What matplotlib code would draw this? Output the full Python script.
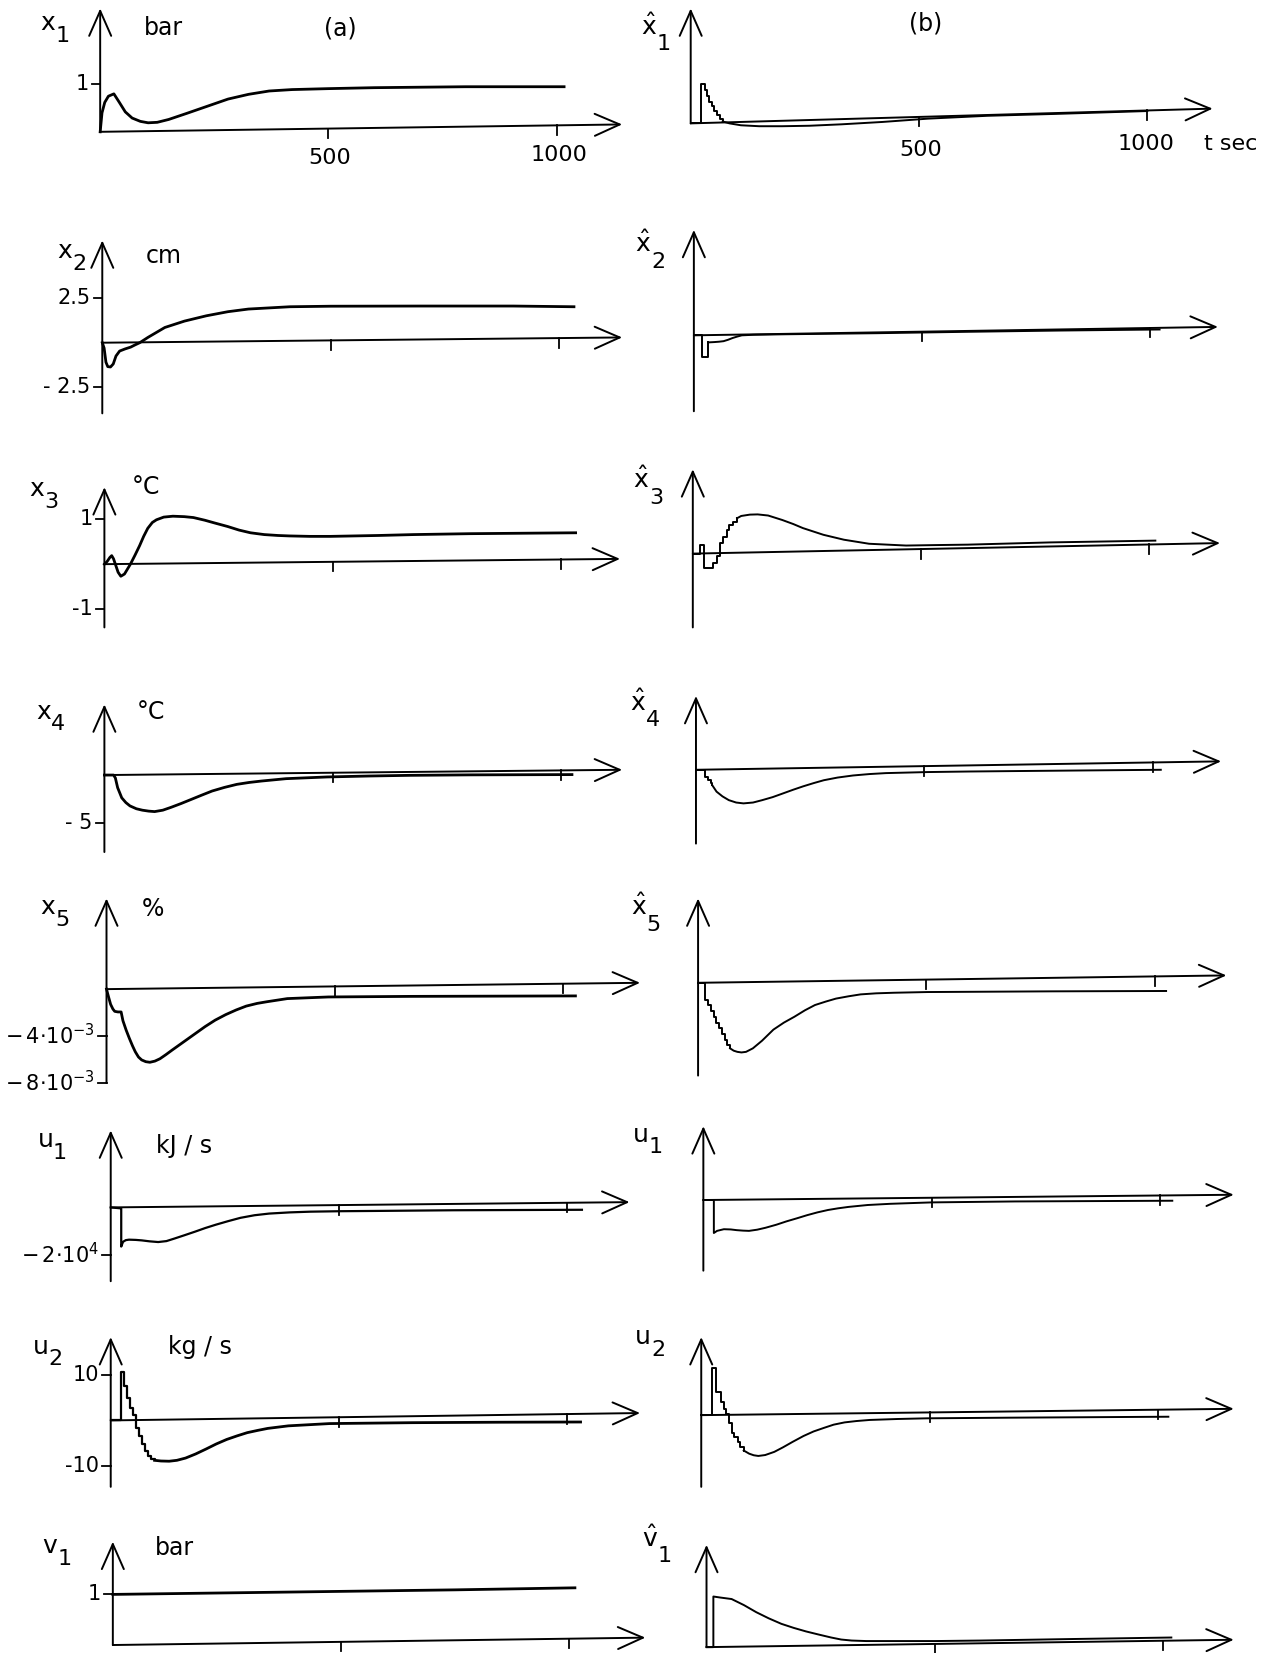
import numpy as np
import matplotlib.pyplot as plt

plt.rcParams['font.family'] = 'DejaVu Sans'
plt.rcParams['mathtext.fontset'] = 'dejavusans'

# ---------------- data (t in s, values in panel units) ----------------
# column (a): process variables
x1_t = [0, 4, 10, 18, 30, 42, 55, 70, 88, 105, 125, 150, 190, 235, 280, 325, 370, 420, 500, 600, 800, 1016]
x1_v = [0, 0.4, 0.62, 0.75, 0.8, 0.62, 0.42, 0.29, 0.22, 0.19, 0.2, 0.26, 0.39, 0.54, 0.69, 0.79, 0.86, 0.89, 0.91, 0.93, 0.95, 0.95]

x2_t = [0, 4, 8, 12, 18, 24, 30, 38, 50, 62, 72, 82, 100, 137, 180, 228, 275, 320, 411, 500, 700, 900, 1033]
x2_v = [0, -0.3, -1.1, -1.35, -1.37, -1.2, -0.75, -0.47, -0.35, -0.25, -0.12, 0, 0.3, 0.86, 1.22, 1.52, 1.75, 1.9, 2.03, 2.06, 2.07, 2.07, 2.03]

x3_t = [0, 6, 12, 16, 20, 24, 30, 36, 44, 57, 67, 77, 86, 95, 105, 114, 130, 150, 175, 195, 220, 241, 270, 295, 320, 350, 380, 405, 450, 495, 600, 677, 800, 1032]
x3_v = [0, 0.06, 0.15, 0.19, 0.12, 0.0, -0.18, -0.27, -0.22, 0, 0.2, 0.41, 0.62, 0.8, 0.93, 0.99, 1.05, 1.07, 1.06, 1.04, 0.98, 0.92, 0.84, 0.76, 0.7, 0.66, 0.64, 0.63, 0.62, 0.62, 0.64, 0.66, 0.68, 0.7]

x4_t = [0, 20, 24, 29, 38, 47, 56, 70, 83, 97, 110, 128, 146, 168, 191, 214, 236, 263, 290, 317, 344, 398, 488, 580, 668, 800, 1024]
x4_v = [0, 0, -0.3, -1.33, -2.4, -2.9, -3.25, -3.55, -3.7, -3.8, -3.85, -3.7, -3.4, -3.0, -2.55, -2.1, -1.68, -1.3, -0.98, -0.78, -0.63, -0.38, -0.2, -0.1, -0.03, 0.02, 0.05]

x5_t = [0, 4, 9, 14, 18, 25, 32, 36, 43, 50, 57, 63, 70, 77, 86, 95, 106, 117, 130, 144, 162, 180, 198, 216, 238, 261, 284, 306, 330, 351, 396, 486, 667, 850, 1027]
x5_v = [0, -0.6, -1.3, -1.7, -1.9, -1.95, -1.95, -2.7, -3.5, -4.2, -4.85, -5.35, -5.8, -6.05, -6.2, -6.25, -6.15, -5.95, -5.6, -5.2, -4.7, -4.2, -3.7, -3.2, -2.65, -2.18, -1.78, -1.45, -1.22, -1.08, -0.81, -0.67, -0.62, -0.6, -0.58]  # x 1e-3

u1_t = [0, 22, 23, 23, 27, 33, 40, 55, 68, 85, 104, 122, 140, 162, 185, 207, 230, 257, 284, 315, 347, 392, 437, 505, 572, 752, 1032]
u1_v = [0, -0.04, -0.04, -1.65, -1.45, -1.38, -1.36, -1.37, -1.39, -1.43, -1.46, -1.42, -1.31, -1.17, -1.02, -0.87, -0.73, -0.58, -0.44, -0.33, -0.26, -0.21, -0.18, -0.16, -0.15, -0.12, -0.1]  # x 1e4

u2_step_t = [0, 22, 29, 36, 43, 49, 56, 62, 68, 74, 81, 88, 96]
u2_step_v = [0, 10.6, 7.6, 4.9, 2.65, 1.14, -1.76, -3.5, -5.3, -6.7, -7.75, -8.45, -8.8]
u2_t = [96, 110, 128, 145, 164, 186, 209, 231, 254, 277, 299, 322, 344, 389, 479, 660, 850, 1029]
u2_v = [-8.8, -8.95, -9.0, -8.8, -8.3, -7.4, -6.3, -5.2, -4.2, -3.4, -2.7, -2.2, -1.76, -1.2, -0.7, -0.5, -0.4, -0.35]

v1_t = [0, 250, 500, 750, 1012]
v1_v = [1.0, 1.03, 1.06, 1.09, 1.13]

# column (b): estimates
x1h_step_t = [0, 23, 31, 36, 41, 47, 52, 58, 64, 70]
x1h_step_v = [0, 0.82, 0.71, 0.58, 0.46, 0.36, 0.26, 0.17, 0.10, 0.04]
x1h_t = [70, 85, 110, 150, 200, 260, 330, 420, 520, 650, 800, 1000]
x1h_v = [0.04, 0.0, -0.04, -0.06, -0.06, -0.05, -0.02, 0.03, 0.1, 0.16, 0.2, 0.26]

x2h_step_t = [0, 18, 31]
x2h_step_v = [0, -1.25, -0.4]
x2h_t = [31, 45, 55, 65, 75, 85, 95, 105, 130, 200, 400, 600, 800, 1020]
x2h_v = [-0.4, -0.38, -0.36, -0.33, -0.25, -0.15, -0.07, 0.0, 0.03, 0.06, 0.12, 0.2, 0.27, 0.33]

x3h_step_t = [0, 15, 24, 45, 53, 60, 67, 74, 80, 88, 97]
x3h_step_v = [0, 0.2, -0.32, -0.2, -0.06, 0.23, 0.38, 0.53, 0.64, 0.71, 0.79]
x3h_t = [97, 106, 125, 142, 165, 196, 220, 241, 286, 331, 386, 467, 530, 602, 783, 1013]
x3h_v = [0.79, 0.84, 0.87, 0.875, 0.85, 0.75, 0.66, 0.57, 0.42, 0.31, 0.22, 0.18, 0.19, 0.2, 0.25, 0.29]

x4h_step_t = [0, 20, 27, 32, 36]
x4h_step_v = [0, -0.76, -1.1, -1.4, -1.65]
x4h_t = [36, 45, 58, 72, 88, 104, 125, 145, 168, 190, 213, 235, 258, 280, 310, 344, 380, 416, 507, 600, 688, 850, 1018]
x4h_v = [-1.65, -2.3, -2.8, -3.2, -3.45, -3.54, -3.45, -3.2, -2.88, -2.5, -2.1, -1.74, -1.4, -1.1, -0.82, -0.6, -0.45, -0.35, -0.24, -0.18, -0.14, -0.07, 0.0]

x5h_step_t = [0, 15, 22, 28, 34, 40, 46, 52, 58, 64, 70]
x5h_step_v = [0, -1.5, -1.9, -2.4, -2.9, -3.4, -3.9, -4.4, -4.9, -5.3, -5.6]
x5h_t = [70, 78, 86, 95, 105, 120, 140, 165, 188, 211, 234, 256, 280, 302, 330, 356, 390, 429, 502, 640, 775, 1025]
x5h_v = [-5.6, -5.8, -5.9, -5.95, -5.9, -5.6, -4.95, -4.0, -3.4, -2.9, -2.35, -1.9, -1.6, -1.35, -1.15, -0.99, -0.9, -0.85, -0.79, -0.76, -0.73, -0.7]

u1h_t = [0, 23, 23, 30, 45, 60, 73, 87, 100, 118, 136, 160, 182, 205, 227, 250, 273, 295, 318, 360, 409, 500, 682, 1027]
u1h_v = [0, 0, -1.39, -1.3, -1.23, -1.24, -1.27, -1.29, -1.3, -1.25, -1.17, -1.04, -0.9, -0.77, -0.64, -0.52, -0.42, -0.35, -0.29, -0.21, -0.16, -0.1, -0.06, -0.03]

u2h_step_t = [0, 23.5, 32.5, 43.4, 50.6, 55, 61.4, 66.8, 72.3, 79.5, 84.9, 93]
u2h_step_v = [0, 10.4, 5.1, 2.9, 1.46, 0.2, -1.8, -3.9, -4.9, -6.0, -7.0, -7.8]
u2h_t = [93, 105, 115, 125, 140, 160, 179, 200, 224, 246, 269, 290, 314, 340, 369, 430, 495, 676, 1023]
u2h_v = [-7.8, -8.5, -8.85, -9.0, -8.8, -8.1, -7.1, -5.9, -4.6, -3.6, -2.8, -2.1, -1.6, -1.3, -1.06, -0.85, -0.7, -0.56, -0.35]

v1h_t = [0, 15, 15, 30, 55, 82, 109, 136, 164, 191, 218, 245, 273, 295, 318, 350, 382, 500, 600, 800, 1018]
v1h_v = [0, 0, 1.0, 0.98, 0.95, 0.83, 0.69, 0.57, 0.46, 0.38, 0.31, 0.25, 0.19, 0.15, 0.13, 0.12, 0.12, 0.12, 0.13, 0.16, 0.19]

x_ticks = [500, 1000]

# ---------------- layout (reference pixels of the 1211 px wide sketch) ----------------
W, H = 1277, 1653
K = W / 1211.0
SX = 0.433  # px per second

# ox, oy, y-axis top, y-axis bottom, px per unit, arrow tip x, arrow tip y
rows_a = [(95, 125, 8, 125, 45, 590, 118),
          (97, 325, 228, 392, 16.8, 590, 320),
          (99, 535, 462, 595, 42.5, 588, 530),
          (99, 735, 668, 808, 9, 590, 730),
          (101, 938, 852, 1027, 11.1, 607, 932),
          (105, 1145, 1072, 1215, 22.5, 597, 1140),
          (105, 1347, 1268, 1410, 4.3, 607, 1340),
          (107, 1560, 1462, 1560, 48, 612, 1553)]
rows_b = [(655, 117, 8, 117, 45, 1150, 103),
          (658, 318, 218, 390, 16.8, 1155, 310),
          (657, 525, 445, 595, 42.5, 1157, 515),
          (660, 730, 660, 800, 9, 1158, 722),
          (662, 932, 852, 1020, 11.1, 1163, 925),
          (667, 1138, 1068, 1205, 22.5, 1170, 1133),
          (665, 1342, 1268, 1410, 4.3, 1170, 1336),
          (670, 1562, 1465, 1562, 48, 1170, 1555)]

yticks_a = [([1], ['1']),
            ([2.5, -2.5], ['2.5', '- 2.5']),
            ([1, -1], ['1', '-1']),
            ([-5], ['- 5']),
            ([-4, -8], [r'$-\,4{\cdot}10^{-3}$', r'$-\,8{\cdot}10^{-3}$']),
            ([-2], [r'$-\,2{\cdot}10^{4}$']),
            ([10, -10], ['10', '-10']),
            ([1], ['1'])]

fig = plt.figure(figsize=(W / 100, H / 100), dpi=100)
ARROW = dict(arrowstyle='->,head_length=0.75,head_width=0.33', lw=1.4, color='k',
             shrinkA=0, shrinkB=0, mutation_scale=24)


def panel(ox, oy, ytop, ybot, sy, tip_x, tip_y):
    left, right = ox - 70, ox + 545
    top, bot = ytop - 10, ybot + 20
    ax = fig.add_axes([left * K / W, 1 - bot * K / H, (right - left) * K / W, (bot - top) * K / H])
    ax.set_xlim((left - ox) / SX, (right - ox) / SX)
    ax.set_ylim((oy - bot) / sy, (oy - top) / sy)
    ax.axis('off')
    t_tip = (tip_x - ox) / SX
    rise = (oy - tip_y) / sy
    ax.annotate('', xy=(0, (oy - ytop) / sy), xytext=(0, (oy - ybot) / sy), arrowprops=ARROW)
    ax.annotate('', xy=(t_tip, rise), xytext=(0, 0), arrowprops=ARROW)
    for t in x_ticks:
        ya = rise * t / t_tip
        ax.plot([t, t], [ya, ya - 9 / sy], color='k', lw=1.3)
    return ax


def ftext(x, y, s, size=17, **kw):
    fig.text(x * K / W, 1 - y * K / H, s, fontsize=size, ha='center', va='center', **kw)


axes_a = [panel(*r) for r in rows_a]
axes_b = [panel(*r) for r in rows_b]

# y ticks on column (a)
for ax, r, (vals, labs) in zip(axes_a, rows_a, yticks_a):
    for v, lab in zip(vals, labs):
        ax.plot([-8 / SX, 0], [v, v], color='k', lw=1.3)
        ax.text(-11 / SX, v, lab, ha='right', va='center', fontsize=15)

LA, LB = 2.0, 1.4
axes_a[0].plot(x1_t, x1_v, color='k', lw=LA)
axes_a[1].plot(x2_t, x2_v, color='k', lw=LA)
axes_a[2].plot(x3_t, x3_v, color='k', lw=LA)
axes_a[3].plot(x4_t, x4_v, color='k', lw=LA)
axes_a[4].plot(x5_t, x5_v, color='k', lw=LA)
axes_a[5].plot(u1_t, u1_v, color='k', lw=1.6)
axes_a[6].step(u2_step_t, u2_step_v, where='post', color='k', lw=1.6)
axes_a[6].plot(u2_t, u2_v, color='k', lw=LA)
axes_a[7].plot(v1_t, v1_v, color='k', lw=LA)

for ax, st, sv, ct, cv in [(axes_b[0], x1h_step_t, x1h_step_v, x1h_t, x1h_v),
                           (axes_b[1], x2h_step_t, x2h_step_v, x2h_t, x2h_v),
                           (axes_b[2], x3h_step_t, x3h_step_v, x3h_t, x3h_v),
                           (axes_b[3], x4h_step_t, x4h_step_v, x4h_t, x4h_v),
                           (axes_b[4], x5h_step_t, x5h_step_v, x5h_t, x5h_v),
                           (axes_b[6], u2h_step_t, u2h_step_v, u2h_t, u2h_v)]:
    ax.step(st, sv, where='post', color='k', lw=LB)
    ax.plot(ct, cv, color='k', lw=LB)
axes_b[5].plot(u1h_t, u1h_v, color='k', lw=LB)
axes_b[7].plot(v1h_t, v1h_v, color='k', lw=LB)

# variable names: letter, hat?, index, letter centre
names = [('x', False, '1', 45, 22), ('x', False, '2', 61, 238), ('x', False, '3', 35, 464),
         ('x', False, '4', 41, 675), ('x', False, '5', 45, 860), ('u', False, '1', 43, 1081),
         ('u', False, '2', 39, 1277), ('v', False, '1', 47, 1466),
         ('x', True, '1', 615, 30), ('x', True, '2', 610, 236), ('x', True, '3', 608, 460),
         ('x', True, '4', 605, 671), ('x', True, '5', 606, 865), ('u', False, '1', 608, 1076),
         ('u', False, '2', 610, 1268), ('v', True, '1', 616, 1464)]
for letter, hat, idx, x, y in names:
    if hat:
        ftext(x, y - 5, r'$\hat{\mathrm{%s}}$' % letter, size=18)
    else:
        ftext(x, y, letter, size=18)
    ftext(x + 14, y + 12, idx, size=16)

units = [('bar', 155, 27), ('(a)', 323, 27), ('(b)', 878, 22), ('cm', 155, 243),
         ('°C', 138, 462), ('°C', 143, 675), ('%', 145, 862), ('kJ / s', 175, 1087),
         ('kg / s', 190, 1277), ('bar', 165, 1468)]
for s, x, y in units:
    ftext(x, y, s)

for s, x, y in [('500', 313, 150), ('1000', 530, 147), ('500', 873, 142),
                ('1000', 1087, 137), ('t sec', 1167, 137)]:
    ftext(x, y, s, size=16)

fig.savefig('out.png', dpi=100)
